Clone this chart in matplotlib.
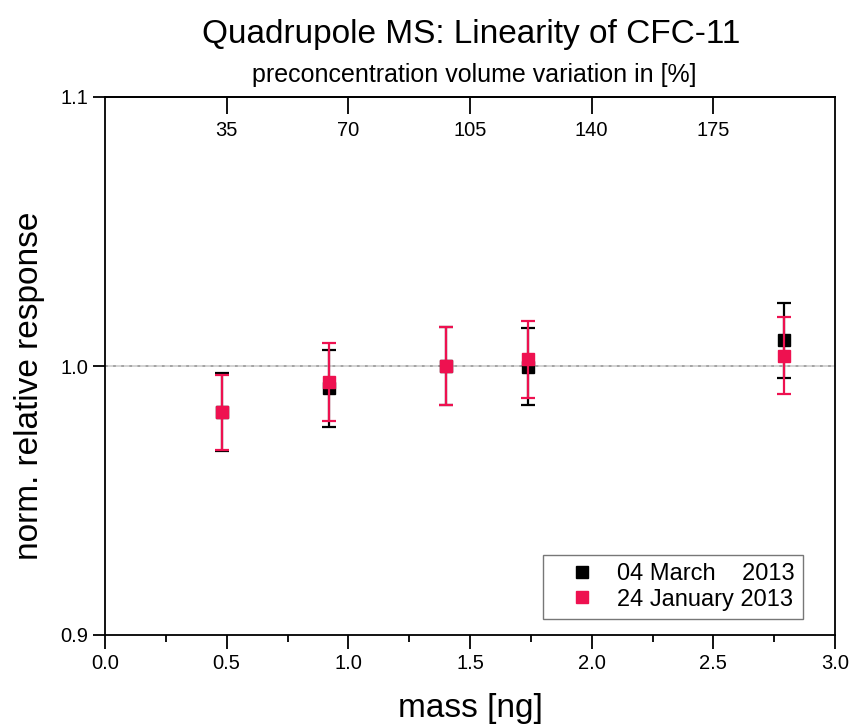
import matplotlib
matplotlib.use("Agg")
import matplotlib.pyplot as plt
from matplotlib.ticker import MultipleLocator, FixedLocator, FormatStrFormatter
from matplotlib.lines import Line2D

plt.rcParams['font.family'] = ['Liberation Sans', 'DejaVu Sans']

# data
mass = [0.48, 0.92, 1.40, 1.74, 2.79]
march_resp = [0.9830, 0.9918, 1.0000, 0.9997, 1.0095]
march_err = [0.0145, 0.0143, 0.0145, 0.0143, 0.0141]
jan_resp = [0.9828, 0.9942, 1.0000, 1.0025, 1.0038]
jan_err = [0.0140, 0.0145, 0.0145, 0.0143, 0.0143]
top_ticks = [35, 70, 105, 140, 175]
labels = ["04 March    2013", "24 January 2013"]

red = '#ee1150'

fig = plt.figure(figsize=(8.52, 7.27), dpi=100)
ax = fig.add_axes([105/852, 1-635/727, 730/852, 538/727])

ax.axhline(1.0, color='#d0d0d0', lw=1.3, zorder=1)
ax.axhline(1.0, color='#a0a0a0', lw=1.3, ls=(0, (1.5, 3)), zorder=1)

ax.errorbar(mass, march_resp, yerr=march_err, fmt='s', color='black', ms=8.5,
            ecolor='black', elinewidth=1.6, capsize=5, capthick=1.6, zorder=3)
ax.errorbar(mass, jan_resp, yerr=jan_err, fmt='s', color=red, ms=8.5,
            ecolor=red, elinewidth=1.6, capsize=5, capthick=1.6, zorder=4)

ax.set_xlim(0, 3.0)
ax.set_ylim(0.9, 1.1)
ax.xaxis.set_major_locator(MultipleLocator(0.5))
ax.xaxis.set_minor_locator(MultipleLocator(0.25))
ax.yaxis.set_major_locator(MultipleLocator(0.1))
ax.xaxis.set_major_formatter(FormatStrFormatter('%.1f'))
ax.yaxis.set_major_formatter(FormatStrFormatter('%.1f'))
ax.tick_params(axis='x', which='major', direction='out', length=10, width=1.3,
               labelsize=14.5, pad=4, top=False)
ax.tick_params(axis='x', which='minor', direction='out', length=5, width=1.3, top=False)
ax.tick_params(axis='y', which='major', direction='out', length=9, width=1.3,
               labelsize=14.5, pad=3, right=False)
for s in ax.spines.values():
    s.set_linewidth(1.3)

sec = ax.secondary_xaxis('top', functions=(lambda m: m * 70.0, lambda p: p / 70.0))
sec.xaxis.set_major_locator(FixedLocator(top_ticks))
sec.tick_params(axis='x', direction='in', length=12, width=1.3, labelsize=14.5, pad=-31)
sec.spines['top'].set_linewidth(1.3)

ax.set_xlabel('mass [ng]', fontsize=24, labelpad=14)
ax.set_ylabel('norm. relative response', fontsize=24)
ax.yaxis.set_label_coords(-0.082, 0.463)

fig.text(471 / 852, 1 - 35 / 727, 'Quadrupole MS: Linearity of CFC-11',
         ha='center', va='center', fontsize=24)
fig.text(474 / 852, 1 - 75 / 727, 'preconcentration volume variation in [%]',
         ha='center', va='center', fontsize=18)

handles = [Line2D([], [], ls='none', marker='s', color='black', ms=8),
           Line2D([], [], ls='none', marker='s', color=red, ms=8)]
leg = ax.legend(handles, labels, loc='lower right', bbox_to_anchor=(0.956, 0.03),
                fontsize=17, frameon=True, fancybox=False, edgecolor='#555555',
                handlelength=2.6, handletextpad=0.2, borderpad=0.35,
                labelspacing=0.15, borderaxespad=0)
leg.get_frame().set_linewidth(1.0)

fig.savefig('out.png', dpi=100)
